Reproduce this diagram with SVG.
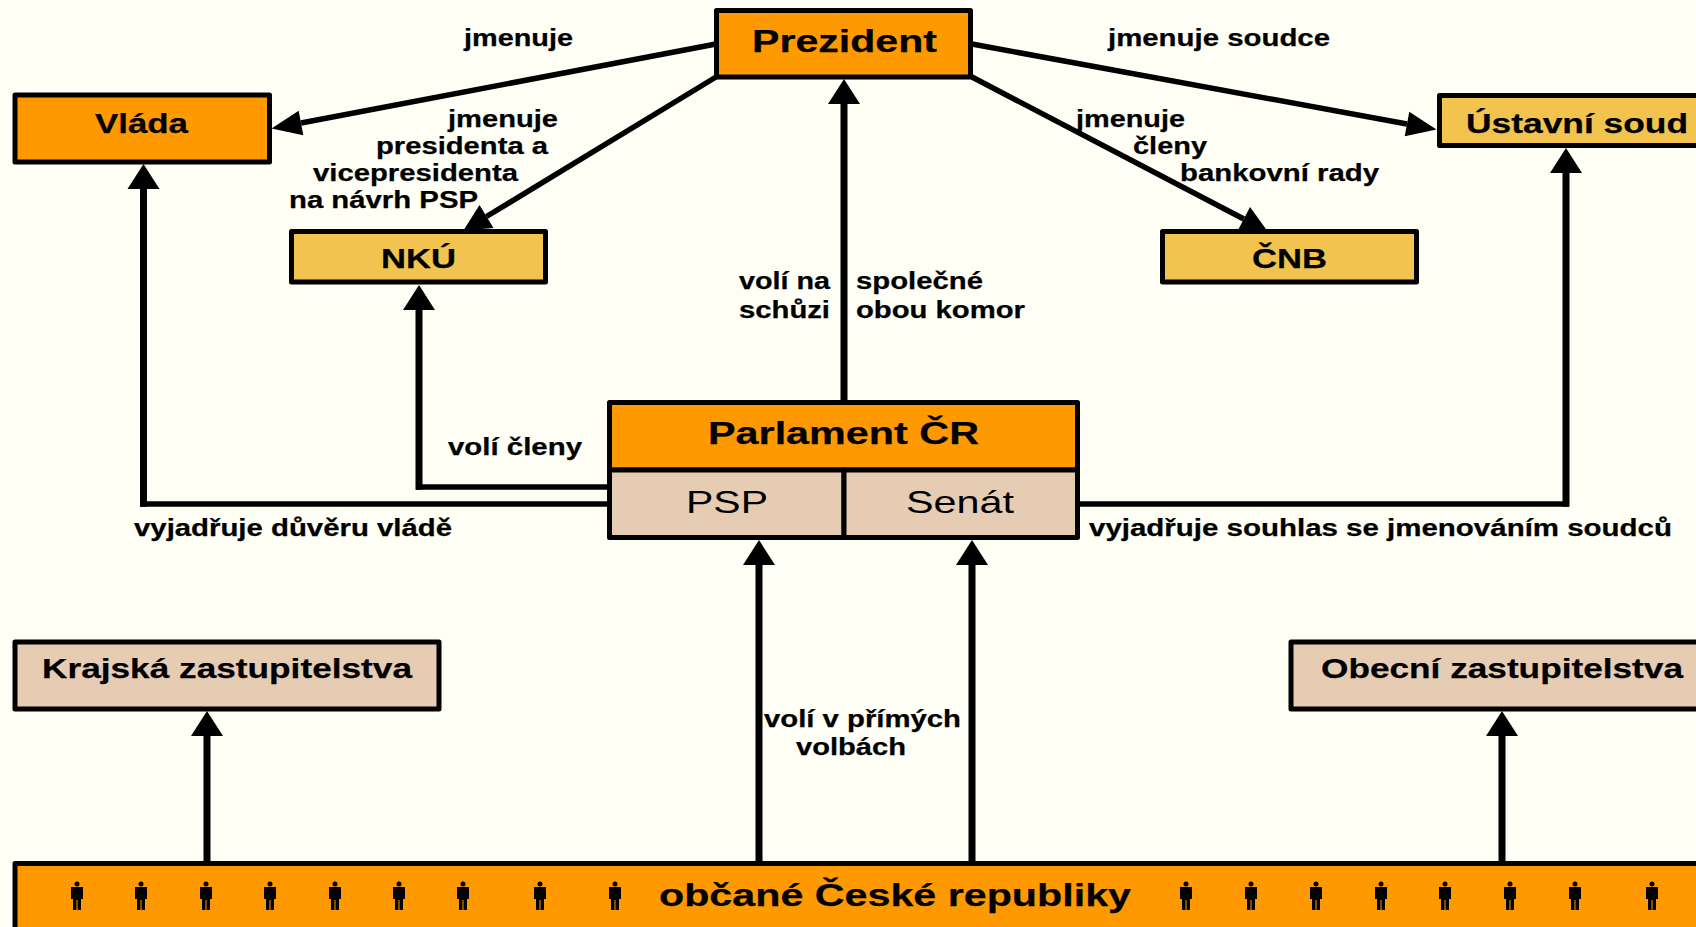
<svg xmlns="http://www.w3.org/2000/svg" xmlns:xlink="http://www.w3.org/1999/xlink" width="1696" height="927" viewBox="0 0 1696 927">
<style>
text{font-family:"Liberation Sans",Arial,sans-serif;fill:#000}
.l{font-size:23px;font-weight:bold;stroke:#000;stroke-width:.25}
.b{font-size:28px;font-weight:bold;stroke:#000;stroke-width:.25}
.h{font-size:32px;font-weight:bold;stroke:#000;stroke-width:.25}
.p{font-size:32px}
.n{stroke:#000;stroke-width:5;stroke-linejoin:round}
.o{fill:#FF9900}.y{fill:#F2C44F}.t{fill:#E6CCB3}
.c{fill:none;stroke:#000;stroke-width:5.500}
.v{fill:none;stroke:#000;stroke-width:7}
</style>
<defs>
<marker id="a" markerUnits="userSpaceOnUse" markerWidth="34" markerHeight="34" refX="0" refY="16" orient="auto" overflow="visible"><path d="M0 0L25 16L0 32Z" fill="#000"/></marker>
<marker id="w" markerUnits="userSpaceOnUse" markerWidth="34" markerHeight="34" refX="0" refY="12.500" orient="auto" overflow="visible"><path d="M0 0L30 12.500L0 25Z" fill="#000"/></marker>
<marker id="d" markerUnits="userSpaceOnUse" markerWidth="34" markerHeight="34" refX="0" refY="13.500" orient="auto" overflow="visible"><path d="M0 0L27 13.500L0 27Z" fill="#000"/></marker>
<path id="m" fill="#000" d="M-2.500-26a2.500 2.500 0 1 1 5 0a2.500 2.500 0 1 1-5 0ZM-6-23H6V-11H4V0H0.500V-10H-0.500V0H-4V-11H-6Z"/>
</defs>
<rect width="1696" height="927" fill="#FFFFF5"/>
<g id="connectors">
<line class="c" x1="716" y1="44" x2="301" y2="123" marker-end="url(#w)"/>
<line class="c" x1="972" y1="44" x2="1407" y2="124" marker-end="url(#w)"/>
<line class="c" x1="716" y1="77" x2="486.500" y2="216.500" marker-end="url(#d)"/>
<line class="c" x1="972" y1="77" x2="1243.800" y2="219" marker-end="url(#d)"/>
<line class="v" x1="844" y1="400" x2="844" y2="104" marker-end="url(#a)"/>
<line class="c" x1="607" y1="504" x2="140" y2="504"/>
<line class="v" x1="143.500" y1="506.700" x2="143.500" y2="189" marker-end="url(#a)"/>
<line class="c" x1="607" y1="487" x2="416" y2="487"/>
<line class="v" x1="419" y1="489.700" x2="419" y2="310" marker-end="url(#a)"/>
<line class="c" x1="1080" y1="504" x2="1569" y2="504"/>
<line class="v" x1="1566" y1="506.700" x2="1566" y2="173" marker-end="url(#a)"/>
<line class="v" x1="759" y1="861" x2="759" y2="565" marker-end="url(#a)"/>
<line class="v" x1="972" y1="861" x2="972" y2="565" marker-end="url(#a)"/>
<line class="v" x1="207" y1="861" x2="207" y2="736" marker-end="url(#a)"/>
<line class="v" x1="1502" y1="861" x2="1502" y2="736" marker-end="url(#a)"/>
</g>
<g id="prezident"><rect class="n o" x="716.500" y="10.500" width="254" height="66.500"/><text class="h" x="752" y="52" textLength="185" lengthAdjust="spacingAndGlyphs">Prezident</text></g>
<g id="vlada"><rect class="n o" x="15" y="95" width="254.500" height="67"/><text class="b" x="95" y="133" textLength="93" lengthAdjust="spacingAndGlyphs">Vláda</text></g>
<g id="ustavni-soud"><rect class="n y" x="1439.500" y="95.500" width="270" height="50"/><text class="b" x="1466" y="133" textLength="222" lengthAdjust="spacingAndGlyphs">Ústavní soud</text></g>
<g id="nku"><rect class="n y" x="291.500" y="231.500" width="254" height="50.500"/><text class="b" x="381" y="268" textLength="75" lengthAdjust="spacingAndGlyphs">NKÚ</text></g>
<g id="cnb"><rect class="n y" x="1162.500" y="231.500" width="254" height="50.500"/><text class="b" x="1252" y="268" textLength="75" lengthAdjust="spacingAndGlyphs">ČNB</text></g>
<g id="parlament"><rect class="n o" x="609.500" y="402.500" width="468" height="67.500"/><text class="h" x="708" y="444" textLength="271" lengthAdjust="spacingAndGlyphs">Parlament ČR</text></g>
<g id="psp"><rect class="n t" x="609.500" y="470" width="234.500" height="67.500"/><text class="p" x="686" y="513" textLength="82" lengthAdjust="spacingAndGlyphs">PSP</text></g>
<g id="senat"><rect class="n t" x="844" y="470" width="233.500" height="67.500"/><text class="p" x="906" y="513" textLength="108" lengthAdjust="spacingAndGlyphs">Senát</text></g>
<g id="krajska"><rect class="n t" x="15" y="642" width="424" height="67"/><text class="b" x="42" y="678" textLength="370" lengthAdjust="spacingAndGlyphs">Krajská zastupitelstva</text></g>
<g id="obecni"><rect class="n t" x="1291" y="642" width="420" height="67"/><text class="b" x="1321" y="678" textLength="362" lengthAdjust="spacingAndGlyphs">Obecní zastupitelstva</text></g>
<g id="obcane"><rect class="n o" x="15" y="863.500" width="1700" height="90"/>
<text class="h" x="659" y="906" textLength="472" lengthAdjust="spacingAndGlyphs">občané České republiky</text>
<use xlink:href="#m" href="#m" x="77" y="910"/><use xlink:href="#m" href="#m" x="141" y="910"/><use xlink:href="#m" href="#m" x="206" y="910"/><use xlink:href="#m" href="#m" x="270" y="910"/><use xlink:href="#m" href="#m" x="335" y="910"/><use xlink:href="#m" href="#m" x="399" y="910"/><use xlink:href="#m" href="#m" x="463" y="910"/><use xlink:href="#m" href="#m" x="540" y="910"/><use xlink:href="#m" href="#m" x="615" y="910"/>
<use xlink:href="#m" href="#m" x="1186" y="910"/><use xlink:href="#m" href="#m" x="1251" y="910"/><use xlink:href="#m" href="#m" x="1316" y="910"/><use xlink:href="#m" href="#m" x="1381" y="910"/><use xlink:href="#m" href="#m" x="1445" y="910"/><use xlink:href="#m" href="#m" x="1510" y="910"/><use xlink:href="#m" href="#m" x="1575" y="910"/><use xlink:href="#m" href="#m" x="1652" y="910"/>
</g>
<g id="labels">
<text class="l" x="464" y="46" textLength="109" lengthAdjust="spacingAndGlyphs">jmenuje</text>
<text class="l" x="1108" y="46" textLength="222" lengthAdjust="spacingAndGlyphs">jmenuje soudce</text>
<text class="l" x="448" y="127" textLength="110" lengthAdjust="spacingAndGlyphs">jmenuje</text>
<text class="l" x="376" y="154" textLength="172" lengthAdjust="spacingAndGlyphs">presidenta a</text>
<text class="l" x="313" y="181" textLength="205" lengthAdjust="spacingAndGlyphs">vicepresidenta</text>
<text class="l" x="289" y="208" textLength="189" lengthAdjust="spacingAndGlyphs">na návrh PSP</text>
<text class="l" x="1076" y="127" textLength="109" lengthAdjust="spacingAndGlyphs">jmenuje</text>
<text class="l" x="1133" y="154" textLength="74" lengthAdjust="spacingAndGlyphs">členy</text>
<text class="l" x="1180" y="181" textLength="199" lengthAdjust="spacingAndGlyphs">bankovní rady</text>
<text class="l" x="739" y="289" textLength="91" lengthAdjust="spacingAndGlyphs">volí na</text>
<text class="l" x="739" y="318" textLength="91" lengthAdjust="spacingAndGlyphs">schůzi</text>
<text class="l" x="856" y="289" textLength="127" lengthAdjust="spacingAndGlyphs">společné</text>
<text class="l" x="856" y="318" textLength="169" lengthAdjust="spacingAndGlyphs">obou komor</text>
<text class="l" x="448" y="455" textLength="134" lengthAdjust="spacingAndGlyphs">volí členy</text>
<text class="l" x="134" y="536" textLength="318" lengthAdjust="spacingAndGlyphs">vyjadřuje důvěru vládě</text>
<text class="l" x="1089" y="536" textLength="583" lengthAdjust="spacingAndGlyphs">vyjadřuje souhlas se jmenováním soudců</text>
<text class="l" x="764" y="727" textLength="197" lengthAdjust="spacingAndGlyphs">volí v přímých</text>
<text class="l" x="796" y="755" textLength="110" lengthAdjust="spacingAndGlyphs">volbách</text>
</g>
</svg>
